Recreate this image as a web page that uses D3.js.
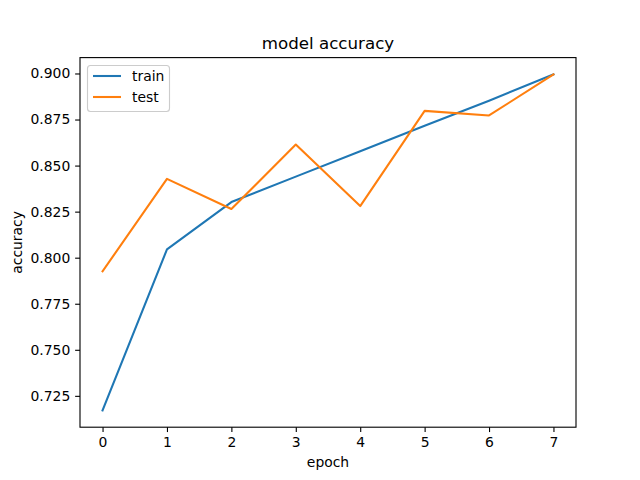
<!DOCTYPE html>
<html><head><meta charset="utf-8">
<script src="https://cdn.jsdelivr.net/npm/d3@7"></script>
<style>body{margin:0;background:#fff}svg{display:block}text{font-family:"DejaVu Sans",sans-serif;fill:#000}</style>
</head><body>
<script>
const epochs = [0,1,2,3,4,5,6,7];
const trainAcc = [0.7171,0.8045,0.8302,0.8440,0.8578,0.8716,0.8852,0.8995];
const testAcc  = [0.7926,0.8428,0.8264,0.8614,0.8280,0.8797,0.8772,0.8995];
const yTicks = [0.725,0.750,0.775,0.800,0.825,0.850,0.875,0.900];
const xTicks = [0,1,2,3,4,5,6,7];
const seriesNames = ["train","test"];
const colors = ["#1f77b4","#ff7f0e"];

const W=640,H=480;
const L=80,R=576,T=57.6,B=427.2;
const svg=d3.select("body").append("svg").attr("width",W).attr("height",H);

const allY=trainAcc.concat(testAcc);
const ymin=d3.min(allY),ymax=d3.max(allY),yr=ymax-ymin;
const x=d3.scaleLinear().domain([-0.35,7.35]).range([L,R]);
const y=d3.scaleLinear().domain([ymin-0.05*yr,ymax+0.05*yr]).range([B,T]);

const line=d3.line().x((d,i)=>x(epochs[i])).y(d=>y(d));
[trainAcc,testAcc].forEach((s,k)=>{
  svg.append("path").datum(s).attr("d",line).attr("fill","none")
    .attr("stroke",colors[k]).attr("stroke-width",2.08)
    .attr("stroke-linejoin","round").attr("stroke-linecap","square");
});

const xAxis=d3.axisBottom(x).tickValues(xTicks).tickFormat(d3.format("d")).tickSize(4.86).tickPadding(4.86);
const yAxis=d3.axisLeft(y).tickValues(yTicks).tickFormat(d3.format(".3f")).tickSize(4.86).tickPadding(4.86);
const gx=svg.append("g").attr("transform",`translate(0,${B})`).call(xAxis);
const gy=svg.append("g").attr("transform",`translate(${L},0)`).call(yAxis);
[gx,gy].forEach(g=>{
  g.select(".domain").remove();
  g.selectAll(".tick line").attr("stroke","#000").attr("stroke-width",1.11);
  g.selectAll(".tick text").attr("font-size","13.9px").attr("font-family","DejaVu Sans").attr("fill","#000");
});

svg.append("rect").attr("x",L).attr("y",T).attr("width",R-L).attr("height",B-T)
  .attr("fill","none").attr("stroke","#000").attr("stroke-width",1.11);

svg.append("text").attr("x",(L+R)/2).attr("y",T-8.3).attr("text-anchor","middle")
  .attr("font-size","16.67px").text("model accuracy");
svg.append("text").attr("x",(L+R)/2).attr("y",467).attr("text-anchor","middle")
  .attr("font-size","13.9px").text("epoch");
svg.append("text").attr("transform",`translate(22,${(T+B)/2}) rotate(-90)`).attr("text-anchor","middle")
  .attr("font-size","13.9px").text("accuracy");

const lg=svg.append("g");
lg.append("rect").attr("x",87.5).attr("y",65.5).attr("width",82).attr("height",46).attr("rx",3)
  .attr("fill","#fff").attr("fill-opacity",0.8).attr("stroke","#ccc").attr("stroke-width",1.11);
seriesNames.forEach((n,i)=>{
  const yy=76+i*21;
  lg.append("line").attr("x1",93).attr("x2",121).attr("y1",yy).attr("y2",yy)
    .attr("stroke",colors[i]).attr("stroke-width",2.08);
  lg.append("text").attr("x",132).attr("y",yy+5).attr("font-size","13.9px").text(n);
});
</script>
</body></html>
